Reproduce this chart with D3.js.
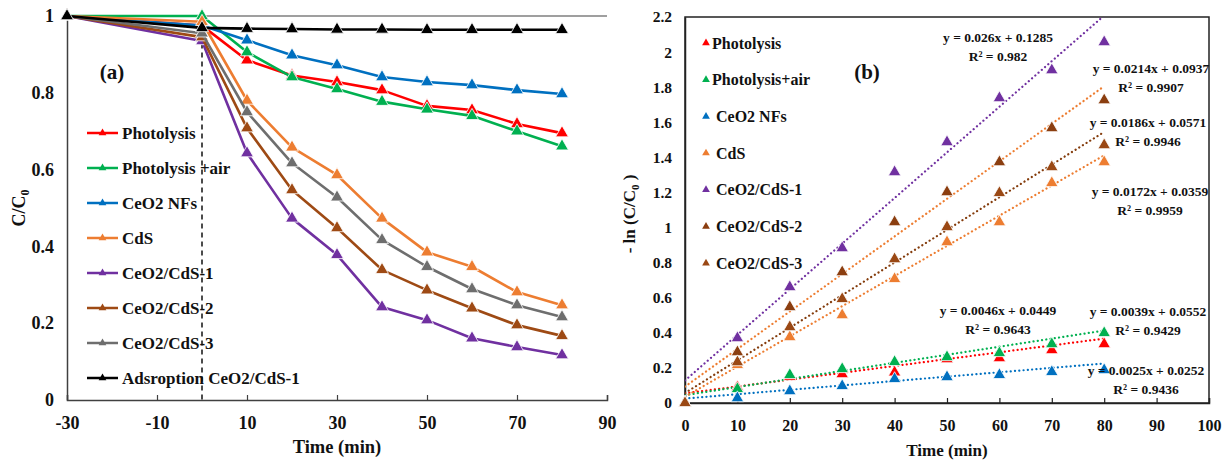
<!DOCTYPE html>
<html>
<head>
<meta charset="utf-8">
<script src="https://cdn.jsdelivr.net/npm/d3@7/dist/d3.min.js"></script>
<style>
  html, body { margin: 0; padding: 0; background: #fff; }
  svg { display: block; }
  text { font-family: "Liberation Serif", "Times New Roman", serif; font-weight: bold; fill: #111; }
</style>
</head>
<body>
<svg id="chart" width="1224" height="462"></svg>
<script>
// ---------- Panel (a): C/C0 versus time ----------
const timeA = [-30, 0, 10, 20, 30, 40, 50, 60, 70, 80];
const photolysisA     = [1, 0.975, 0.885, 0.845, 0.828, 0.807, 0.766, 0.755, 0.719, 0.695];
const photolysisAirA  = [1, 1.0, 0.906, 0.841, 0.81, 0.777, 0.757, 0.74, 0.70, 0.661];
const ceo2NFsA        = [1, 0.975, 0.937, 0.898, 0.872, 0.841, 0.828, 0.82, 0.807, 0.797];
const cdsA            = [1, 0.985, 0.78, 0.658, 0.586, 0.473, 0.385, 0.347, 0.281, 0.247];
const ceo2Cds1A       = [1, 0.935, 0.643, 0.473, 0.378, 0.242, 0.208, 0.161, 0.138, 0.117];
const ceo2Cds2A       = [1, 0.945, 0.708, 0.547, 0.448, 0.339, 0.286, 0.239, 0.195, 0.167];
const ceo2Cds3A       = [1, 0.955, 0.75, 0.617, 0.528, 0.417, 0.347, 0.289, 0.247, 0.216];
const adsorptionA     = [1, 0.969, 0.967, 0.966, 0.965, 0.965, 0.964, 0.964, 0.964, 0.964];

const namesA = ["Photolysis", "Photolysis +air", "CeO2 NFs", "CdS", "CeO2/CdS-1", "CeO2/CdS-2", "CeO2/CdS-3", "Adsroption CeO2/CdS-1"];
const colorsA = ["#ff0000", "#00b050", "#0070c0", "#ed7d31", "#7030a0", "#9e4a14", "#6e6e6e", "#000000"];
const valuesA = [photolysisA, photolysisAirA, ceo2NFsA, cdsA, ceo2Cds1A, ceo2Cds2A, ceo2Cds3A, adsorptionA];
const xTicksA = [-30, -10, 10, 30, 50, 70, 90];
const yTicksA = [0, 0.2, 0.4, 0.6, 0.8, 1];

// ---------- Panel (b): -ln(C/C0) versus time with linear fits ----------
const timeB = [0, 10, 20, 30, 40, 50, 60, 70, 80];
const photolysisB    = [0, 0.09, 0.15, 0.165, 0.175, 0.25, 0.256, 0.302, 0.336];
const photolysisAirB = [0, 0.08, 0.16, 0.194, 0.234, 0.262, 0.285, 0.336, 0.399];
const ceo2NFsB       = [0, 0.028, 0.068, 0.097, 0.137, 0.148, 0.16, 0.177, 0.188];
const cdsB           = [0, 0.217, 0.376, 0.501, 0.707, 0.917, 1.031, 1.254, 1.373];
const ceo2Cds1B      = [0, 0.37, 0.661, 0.883, 1.316, 1.487, 1.738, 1.897, 2.057];
const ceo2Cds2B      = [0, 0.29, 0.547, 0.746, 1.031, 1.202, 1.373, 1.567, 1.726];
const ceo2Cds3B      = [0, 0.233, 0.433, 0.593, 0.82, 1.003, 1.197, 1.345, 1.47];

const namesB = ["Photolysis", "Photolysis+air", " CeO2 NFs", " CdS", " CeO2/CdS-1", " CeO2/CdS-2", " CeO2/CdS-3"];
const colorsB = ["#ff0000", "#00b050", "#0070c0", "#ed7d31", "#7030a0", "#8b3e10", "#9a4814"];
const valuesB = [photolysisB, photolysisAirB, ceo2NFsB, cdsB, ceo2Cds1B, ceo2Cds2B, ceo2Cds3B];

// linear fits: slope, intercept, line colour, equation, R²
const fitSlopes     = [0.0039, 0.0046, 0.0025, 0.0172, 0.026, 0.0214, 0.0186];
const fitIntercepts = [0.0552, 0.0449, 0.0252, 0.0359, 0.1285, 0.0937, 0.0571];
const fitColors     = ["#ff0000", "#00b050", "#0070c0", "#ed7d31", "#7030a0", "#ed7d31", "#843c0c"];
const fitEquations  = ["y = 0.0039x + 0.0552", "y = 0.0046x + 0.0449", "y = 0.0025x + 0.0252", "y = 0.0172x + 0.0359", "y = 0.026x + 0.1285", "y = 0.0214x + 0.0937", "y = 0.0186x + 0.0571"];
const fitR2         = ["R² = 0.9429", "R² = 0.9643", "R² = 0.9436", "R² = 0.9959", "R² = 0.982", "R² = 0.9907", "R² = 0.9946"];
const eqX = [1148, 998, 1146, 1150, 998, 1151, 1148];
const eqY = [311, 310, 370, 191, 37, 68, 122];

const xTicksB = [0, 10, 20, 30, 40, 50, 60, 70, 80, 90, 100];
const yTicksB = [0, 0.2, 0.4, 0.6, 0.8, 1, 1.2, 1.4, 1.6, 1.8, 2, 2.2];

const svg = d3.select("#chart");
const tri = (size) => d3.symbol().type(d3.symbolTriangle).size(size)();
// plain hyphen for negatives, integers without decimals
const fmtNum = d => Math.abs(d - Math.round(d)) < 1e-9 ? String(Math.round(d)) : d.toFixed(1);

// ================= Panel (a) =================
const xA = d3.scaleLinear().domain([-30, 90]).range([67, 607]);
const yA = d3.scaleLinear().domain([0, 1]).range([400, 16]);
const gA = svg.append("g");

// top frame line
gA.append("line").attr("x1", 67).attr("x2", 607).attr("y1", 16).attr("y2", 16)
  .attr("stroke", "#7f7f7f").attr("stroke-width", 1.5);

// x axis
const axA = d3.axisBottom(xA).tickValues(xTicksA).tickSize(-5).tickFormat(fmtNum);
const gxA = gA.append("g").attr("transform", "translate(0,400)").call(axA);
gxA.select(".domain").attr("stroke", "#404040").attr("stroke-width", 1.5);
gxA.selectAll(".tick line").attr("stroke", "#404040").attr("stroke-width", 1.2);
gxA.selectAll(".tick text").attr("y", 16).attr("dy", "0.71em").style("font-size", "18px")
  .style("font-family", "Liberation Serif, serif").style("font-weight", "bold").attr("fill", "#111");

// y axis
const ayA = d3.axisLeft(yA).tickValues(yTicksA).tickSize(0).tickFormat(fmtNum);
const gyA = gA.append("g").attr("transform", "translate(67,0)").call(ayA);
gyA.select(".domain").attr("stroke", "#404040").attr("stroke-width", 1.5);
gyA.selectAll(".tick text").attr("x", -13).style("font-size", "18px")
  .style("font-family", "Liberation Serif, serif").style("font-weight", "bold").attr("fill", "#111");

// axis titles
gA.append("text").attr("x", 337).attr("y", 453).attr("text-anchor", "middle")
  .style("font-size", "18.5px").text("Time (min)");
const ylabA = gA.append("text").attr("transform", "translate(25,208) rotate(-90)")
  .attr("text-anchor", "middle").style("font-size", "18px");
ylabA.append("tspan").text("C/C");
ylabA.append("tspan").attr("dy", 4).style("font-size", "12px").text("0");

gA.append("text").attr("x", 112).attr("y", 79).attr("text-anchor", "middle")
  .style("font-size", "21px").text("(a)");

// legend
const legA = gA.append("g");
namesA.forEach((n, i) => {
  const ly = 133 + i * 35;
  legA.append("line").attr("x1", 87).attr("x2", 118).attr("y1", ly).attr("y2", ly)
    .attr("stroke", colorsA[i]).attr("stroke-width", 2.5);
  legA.append("path").attr("d", tri(26)).attr("transform", `translate(102.5,${ly})`)
    .attr("fill", colorsA[i]);
  legA.append("text").attr("x", 122).attr("y", ly).attr("dy", "0.35em")
    .style("font-size", "17px").text(n);
});

// start-of-irradiation marker
gA.append("line").attr("x1", xA(0)).attr("x2", xA(0)).attr("y1", yA(0.975)).attr("y2", 400)
  .attr("stroke", "#111").attr("stroke-width", 1.5).attr("stroke-dasharray", "5,4");

// series lines and markers
const lineA = d3.line().x((d, i) => xA(timeA[i])).y(d => yA(d));
valuesA.forEach((vals, s) => {
  gA.append("path").datum(vals).attr("d", lineA).attr("fill", "none")
    .attr("stroke", colorsA[s]).attr("stroke-width", 2.6).attr("stroke-linejoin", "round");
  gA.selectAll(null).data(vals).enter().append("path")
    .attr("d", tri(72))
    .attr("transform", (d, i) => `translate(${xA(timeA[i])},${yA(d)})`)
    .attr("fill", colorsA[s]).attr("stroke", "#fff").attr("stroke-width", 0.8);
});

// ================= Panel (b) =================
const xB = d3.scaleLinear().domain([0, 100]).range([685, 1209]);
const yB = d3.scaleLinear().domain([0, 2.2]).range([403, 17]);
const gB = svg.append("g");

gB.append("defs").append("clipPath").attr("id", "clipB")
  .append("rect").attr("x", 685).attr("y", 17).attr("width", 524).attr("height", 386);

// frame
gB.append("rect").attr("x", 685).attr("y", 17).attr("width", 524).attr("height", 386)
  .attr("fill", "none").attr("stroke", "#222").attr("stroke-width", 1.5);

const axB = d3.axisBottom(xB).tickValues(xTicksB).tickSize(-5).tickFormat(fmtNum);
const gxB = gB.append("g").attr("transform", "translate(0,403)").call(axB);
gxB.select(".domain").attr("stroke", "#222").attr("stroke-width", 1.5);
gxB.selectAll(".tick line").attr("stroke", "#222").attr("stroke-width", 1.2);
gxB.selectAll(".tick text").attr("y", 17).attr("dy", "0.71em").style("font-size", "16px")
  .style("font-family", "Liberation Serif, serif").style("font-weight", "bold").attr("fill", "#111");

const ayB = d3.axisLeft(yB).tickValues(yTicksB).tickSize(0).tickFormat(fmtNum);
const gyB = gB.append("g").attr("transform", "translate(685,0)").call(ayB);
gyB.select(".domain").attr("stroke", "#222").attr("stroke-width", 1.5);
gyB.selectAll(".tick text").attr("x", -13).style("font-size", "15.5px")
  .style("font-family", "Liberation Serif, serif").style("font-weight", "bold").attr("fill", "#111");

gB.append("text").attr("x", 947).attr("y", 456).attr("text-anchor", "middle")
  .style("font-size", "17px").text("Time (min)");
const ylabB = gB.append("text").attr("transform", "translate(635,214) rotate(-90)")
  .attr("text-anchor", "middle").style("font-size", "17px");
ylabB.append("tspan").text("- ln (C/C");
ylabB.append("tspan").attr("dy", 4).style("font-size", "11px").text("0");
ylabB.append("tspan").attr("dy", -4).text(" )");

gB.append("text").attr("x", 867).attr("y", 79).attr("text-anchor", "middle")
  .style("font-size", "21px").text("(b)");

// legend (markers only)
namesB.forEach((n, i) => {
  const ly = 43 + i * 36.7;
  gB.append("path").attr("d", tri(26)).attr("transform", `translate(706,${ly})`).attr("fill", colorsB[i]);
  gB.append("text").attr("x", 712).attr("y", ly).attr("dy", "0.35em")
    .attr("xml:space", "preserve").style("white-space", "pre")
    .style("font-size", "16px").text(n);
});

// fitted lines, clipped to the frame
const fitG = gB.append("g").attr("clip-path", "url(#clipB)");
fitSlopes.forEach((m, i) => {
  const t0 = 0, t1 = 80;
  fitG.append("line")
    .attr("x1", xB(t0)).attr("y1", yB(m * t0 + fitIntercepts[i]))
    .attr("x2", xB(t1)).attr("y2", yB(m * t1 + fitIntercepts[i]))
    .attr("stroke", fitColors[i]).attr("stroke-width", 2.2)
    .attr("stroke-linecap", "round").attr("stroke-dasharray", "0.1,4.2");
});

// measured points
valuesB.forEach((vals, s) => {
  gB.selectAll(null).data(vals).enter().append("path")
    .attr("d", tri(68))
    .attr("transform", (d, i) => `translate(${xB(timeB[i])},${yB(d)})`)
    .attr("fill", colorsB[s]).attr("stroke", "#fff").attr("stroke-width", 0.8);
});

// fit equations
fitEquations.forEach((eq, i) => {
  gB.append("text").attr("x", eqX[i]).attr("y", eqY[i]).attr("dy", "0.35em")
    .attr("text-anchor", "middle").style("font-size", "13.5px").text(eq);
  gB.append("text").attr("x", eqX[i]).attr("y", eqY[i] + 19).attr("dy", "0.35em")
    .attr("text-anchor", "middle").style("font-size", "13.5px").text(fitR2[i]);
});
</script>
</body>
</html>
